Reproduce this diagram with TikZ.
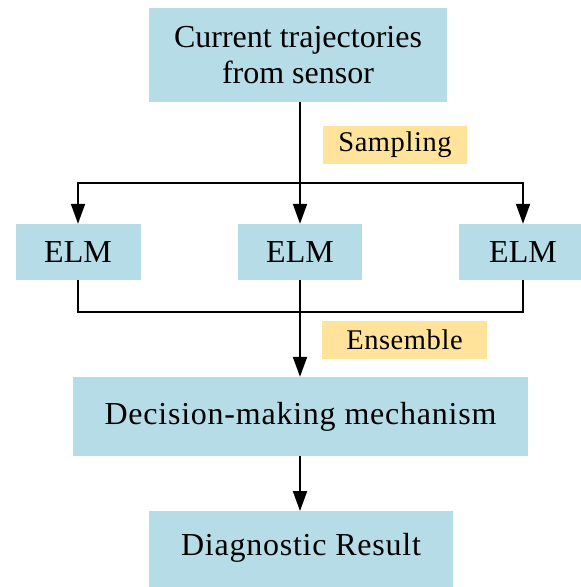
\documentclass[tikz,border=0pt]{standalone}
\usepackage{fontspec}
\setmainfont{Liberation Serif}
\usetikzlibrary{arrows.meta}
\definecolor{boxblue}{RGB}{182,221,231}
\definecolor{tagyellow}{RGB}{255,227,155}
\tikzset{
  block/.style={fill=boxblue, inner sep=0pt, align=center,
    font=\fontsize{32}{36}\selectfont},
  tag/.style={fill=tagyellow, inner sep=0pt,
    font=\fontsize{28.5}{32}\selectfont\addfontfeature{LetterSpace=2}},
  spaced/.style={font=\fontsize{32}{36}\selectfont\addfontfeature{LetterSpace=2.4}},
  link/.style={line width=2pt},
  flow/.style={link, -{Triangle[length=20pt, width=14pt]}},
}
\begin{document}
\begin{tikzpicture}[x=1pt, y=-1pt]
  \useasboundingbox (0,0) rectangle (581,587);
  \clip (0,0) rectangle (581,587);

  % process blocks
  \node[block, minimum width=298pt, minimum height=94pt] (src) at (298,55)
    {Current trajectories\\from sensor};
  \node[block, minimum width=125pt, minimum height=56pt] (elmA) at (78,252) {ELM};
  \node[block, minimum width=124pt, minimum height=56pt] (elmB) at (300,252) {ELM};
  \node[block, minimum width=128pt, minimum height=56pt] (elmC) at (523,252) {ELM};
  \node[block, spaced, minimum width=455pt, minimum height=79pt] (dec) at (300.5,416.5)
    {Decision-making mechanism};
  \node[block, spaced, minimum width=304pt, text height=44pt, text depth=36pt,
    anchor=north] (res) at (301,511) {Diagnostic Result};

  % step labels
  \node[tag, minimum width=144pt, minimum height=38pt] (samp) at (395,145) {Sampling};
  \node[tag, minimum width=165pt, minimum height=38pt] (ens) at (404.5,340) {Ensemble};

  % branch points
  \coordinate (split) at (300,183);
  \coordinate (join) at (300,312);

  % sampling: one source feeds three learners
  \draw[flow] (src.south -| elmB.north) -- (elmB.north);
  \draw[flow] (split) -| (elmA.north);
  \draw[flow] (split) -| (elmC.north);

  % ensemble: learners merge into the decision stage
  \draw[link] (elmA.south) |- (join);
  \draw[link] (elmC.south) |- (join);
  \draw[flow] (elmB.south) -- (dec.north -| elmB.south);
  \draw[flow] (dec.south -| elmB.south) -- (res.north -| elmB.south);
\end{tikzpicture}
\end{document}
